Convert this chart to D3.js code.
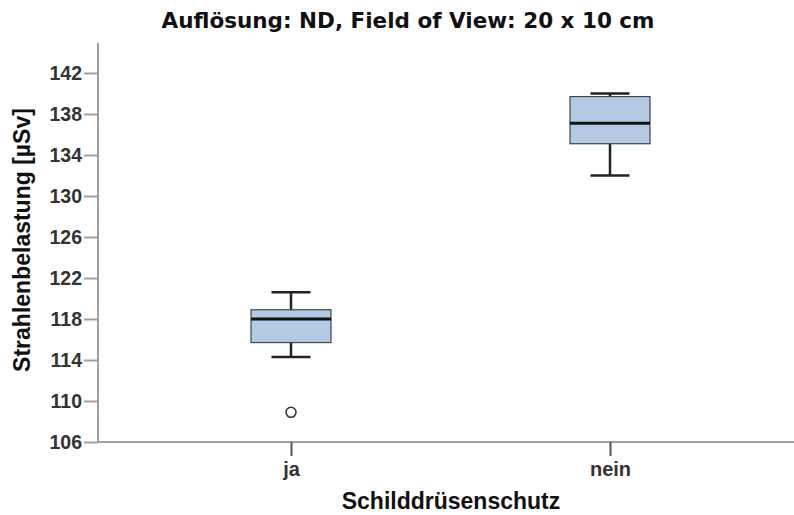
<!DOCTYPE html>
<html>
<head>
<meta charset="utf-8">
<script src="https://cdn.jsdelivr.net/npm/d3@7"></script>
<style>
  body { margin: 0; background: #fff; }
  svg { display: block; }
</style>
</head>
<body>
<svg width="794" height="515"></svg>
<script>
// groups and their box statistics
const groups = ["ja", "nein"];
const whiskerLow = [114.3, 132.0];
const q1 = [115.7, 135.1];
const median = [118.0, 137.1];
const q3 = [118.9, 139.7];
const whiskerHigh = [120.6, 140.0];
const outliers = [[108.9], []];
const yTicks = [106, 110, 114, 118, 122, 126, 130, 134, 138, 142];

const svg = d3.select("svg");

const y = d3.scaleLinear().domain([106, 142]).range([442, 73]);
const x = d3.scalePoint().domain(groups).range([291, 610]);

const axisColor = "#a0a0a0";
const labelColor = "#333";
const sans = "Liberation Sans, Arial, sans-serif";

// title
svg.append("text")
    .attr("x", 408)
    .attr("y", 28)
    .attr("text-anchor", "middle")
    .attr("font-family", "DejaVu Sans, sans-serif")
    .attr("font-size", "21.5px")
    .attr("font-weight", "bold")
    .attr("fill", "#111")
    .text("Auflösung: ND, Field of View: 20 x 10 cm");

// y axis
const yAxis = svg.append("g")
    .attr("transform", "translate(98,0)")
    .call(d3.axisLeft(y).tickValues(yTicks).tickSize(14).tickPadding(2));
yAxis.select(".domain").remove();
yAxis.selectAll(".tick line").attr("stroke", axisColor).attr("stroke-width", 2);
yAxis.selectAll(".tick text")
    .attr("font-family", sans)
    .attr("font-size", "19.5px")
    .attr("font-weight", "bold")
    .attr("fill", labelColor);

svg.append("line")
    .attr("x1", 98).attr("x2", 98)
    .attr("y1", 43).attr("y2", 443)
    .attr("stroke", axisColor).attr("stroke-width", 2);

// x axis
svg.append("line")
    .attr("x1", 97).attr("x2", 794)
    .attr("y1", 442).attr("y2", 442)
    .attr("stroke", axisColor).attr("stroke-width", 2);

const xAxis = svg.append("g")
    .attr("transform", "translate(0,442)")
    .call(d3.axisBottom(x).tickSize(14).tickPadding(6));
xAxis.select(".domain").remove();
xAxis.selectAll(".tick line").attr("stroke", "#555").attr("stroke-width", 2);
xAxis.selectAll(".tick text")
    .attr("font-family", sans)
    .attr("font-size", "20px")
    .attr("font-weight", "bold")
    .attr("fill", labelColor);

// axis titles
svg.append("text")
    .attr("transform", "translate(30,240) rotate(-90)")
    .attr("text-anchor", "middle")
    .attr("font-family", sans)
    .attr("font-size", "23px")
    .attr("font-weight", "bold")
    .attr("fill", "#111")
    .text("Strahlenbelastung [µSv]");

svg.append("text")
    .attr("x", 451)
    .attr("y", 509)
    .attr("text-anchor", "middle")
    .attr("font-family", sans)
    .attr("font-size", "23px")
    .attr("font-weight", "bold")
    .attr("fill", "#111")
    .text("Schilddrüsenschutz");

// boxes
const boxW = 80;
const capW = 39;
const stroke = "#222";

const boxes = groups.map((g, i) => ({
    g, lo: whiskerLow[i], q1: q1[i], med: median[i], q3: q3[i], hi: whiskerHigh[i], out: outliers[i]
}));

const box = svg.selectAll(".box")
    .data(boxes)
    .enter()
    .append("g")
    .attr("class", "box");

box.append("line")
    .attr("x1", d => x(d.g)).attr("x2", d => x(d.g))
    .attr("y1", d => y(d.hi)).attr("y2", d => y(d.q3))
    .attr("stroke", stroke).attr("stroke-width", 2.5);
box.append("line")
    .attr("x1", d => x(d.g)).attr("x2", d => x(d.g))
    .attr("y1", d => y(d.q1)).attr("y2", d => y(d.lo))
    .attr("stroke", stroke).attr("stroke-width", 2.5);
box.append("line")
    .attr("x1", d => x(d.g) - capW / 2).attr("x2", d => x(d.g) + capW / 2)
    .attr("y1", d => y(d.hi)).attr("y2", d => y(d.hi))
    .attr("stroke", stroke).attr("stroke-width", 2.5);
box.append("line")
    .attr("x1", d => x(d.g) - capW / 2).attr("x2", d => x(d.g) + capW / 2)
    .attr("y1", d => y(d.lo)).attr("y2", d => y(d.lo))
    .attr("stroke", stroke).attr("stroke-width", 2.5);

box.append("rect")
    .attr("x", d => x(d.g) - boxW / 2)
    .attr("width", boxW)
    .attr("y", d => y(d.q3))
    .attr("height", d => y(d.q1) - y(d.q3))
    .attr("fill", "#b4c9e4")
    .attr("stroke", "#444")
    .attr("stroke-width", 1.2);

box.append("line")
    .attr("x1", d => x(d.g) - boxW / 2).attr("x2", d => x(d.g) + boxW / 2)
    .attr("y1", d => y(d.med)).attr("y2", d => y(d.med))
    .attr("stroke", "#111").attr("stroke-width", 3);

box.selectAll(".outlier")
    .data(d => d.out.map(v => ({ g: d.g, v })))
    .enter()
    .append("circle")
    .attr("class", "outlier")
    .attr("cx", d => x(d.g))
    .attr("cy", d => y(d.v))
    .attr("r", 5)
    .attr("fill", "#fff")
    .attr("stroke", "#333")
    .attr("stroke-width", 1.6);
</script>
</body>
</html>
